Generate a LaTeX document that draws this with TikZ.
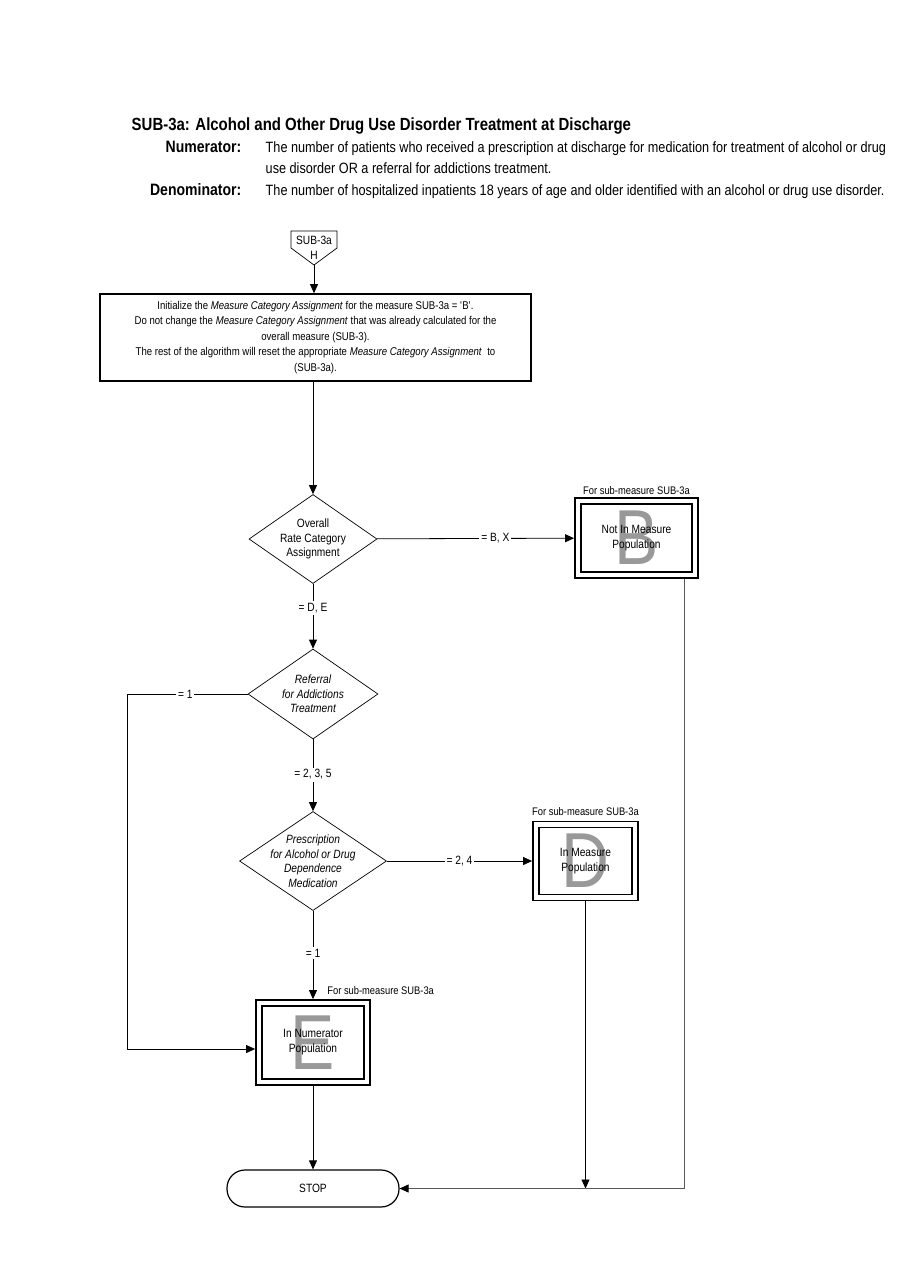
\documentclass[tikz,border=0pt]{standalone}
\usepackage{fontspec}
\setmainfont{Liberation Sans}[FakeStretch=0.85]
\usetikzlibrary{shapes.geometric,arrows.meta,calc}

\begin{document}
\begin{tikzpicture}[x=1pt,y=-1pt,line width=0.8pt,
  every node/.style={font=\fontsize{12}{14}\selectfont},
  hbold/.style={font=\bfseries\fontsize{16.5}{18}\selectfont},
  htext/.style={font=\fontsize{14.9}{18}\selectfont},
  proc/.style={draw,line width=1.6pt,minimum width=431pt,minimum height=87pt,inner sep=0pt,align=center,font=\fontsize{11.3}{15.5}\selectfont},
  decision/.style={diamond,draw,line width=0.7pt,inner sep=0pt},
  dtext/.style={align=center,font=\fontsize{12}{14.5}\selectfont\itshape},
  catbox/.style={draw,line width=1.6pt,double,double distance=4.5pt,outer sep=3.9pt,inner sep=0pt,text=black!40,font=\fontsize{78}{78}\selectfont},
  ctext/.style={align=center,font=\fontsize{12}{15}\selectfont},
  cnote/.style={inner sep=2pt,font=\fontsize{11}{13}\selectfont},
  elabel/.style={fill=white,inner sep=2pt},
  arr/.style={-{Triangle[length=9pt,width=8pt]}}]
\useasboundingbox (0,0) rectangle (900,1286);

% heading
\node[anchor=base west,font=\bfseries\fontsize{17.6}{20}\selectfont] (title) at (128,130) {SUB-3a: Alcohol and Other Drug Use Disorder Treatment at Discharge};
\node[anchor=base east,hbold] (numlab) at (245,152) {Numerator:};
\node[anchor=base west,htext] (numtxt) at (262,152) {The number of patients who received a prescription at discharge for medication for treatment of alcohol or drug};
\node[anchor=base west,htext] (numtxtb) at (262,173) {use disorder OR a referral for addictions treatment.};
\node[anchor=base east,hbold] (denlab) at (245,195) {Denominator:};
\node[anchor=base west,htext] (dentxt) at (262,195) {The number of hospitalized inpatients 18 years of age and older identified with an alcohol or drug use disorder.};

% off-page connector
\node[minimum width=46pt,minimum height=34pt,inner sep=0pt,outer sep=0pt,align=center,font=\fontsize{12}{14.5}\selectfont] (hconn) at (314,248) {SUB-3a\\H};
\draw[line width=0.7pt] (hconn.north west) -- (hconn.north east) -- ($(hconn.north east)+(0,17)$) -- (hconn.south) -- ($(hconn.north west)+(0,17)$) -- cycle;

\node[proc] (init) at (315.5,337.5) {Initialize the \textit{Measure Category Assignment} for the measure SUB-3a = \textquotesingle B\textquotesingle.\\
  Do not change the \textit{Measure Category Assignment} that was already calculated for the\\
  overall measure (SUB-3).\\
  The rest of the algorithm will reset the appropriate \textit{Measure Category Assignment}\ \ to\\
  (SUB-3a).};

% decisions
\node[decision,minimum width=128pt,minimum height=89pt] (rate) at (313,539) {};
\node[dtext,font=\fontsize{12}{14.5}\selectfont] (ratet) at (rate) {Overall\\Rate Category\\Assignment};
\node[decision,minimum width=130pt,minimum height=90pt] (refer) at (313,694) {};
\node[dtext] (refert) at (refer) {Referral\\for Addictions\\Treatment};
\node[decision,minimum width=147pt,minimum height=99pt] (presc) at (313,861) {};
\node[dtext] (presct) at (presc) {Prescription\\for Alcohol or Drug\\Dependence\\Medication};

% category boxes
\node[catbox,minimum width=117pt,minimum height=74pt] (notin) at (636.5,538) {B};
\node[ctext] (notint) at (notin) {Not In Measure\\Population};
\node[cnote,above] (notinn) at (notin.north) {For sub-measure SUB-3a};
\node[catbox,minimum width=99pt,minimum height=73pt] (inmeas) at (585.5,861) {D};
\node[ctext] (inmeast) at (inmeas) {In Measure\\Population};
\node[cnote,above] (inmeasn) at ([yshift=3pt]inmeas.north) {For sub-measure SUB-3a};
\node[catbox,minimum width=108pt,minimum height=79pt] (innum) at (313,1042.5) {E};
\node[ctext] (innumt) at (innum) {In Numerator\\Population};
\node[cnote,anchor=south west] (innumn) at ($(innum.north)+(12,-2)$) {For sub-measure SUB-3a};

\node[draw,rounded corners=18pt,line width=1.2pt,minimum width=172pt,minimum height=37pt] (stop) at (313,1188.5) {STOP};

% connectors
\draw[arr] (hconn.south) -- (hconn.south |- init.north);
\draw[arr] (rate.north |- init.south) -- (rate.north);
\draw[arr] (rate) -- node[elabel,pos=0.6] (lbx) {= B, X} (notin);
\draw[arr] (rate) -- node[elabel,pos=0.37] (lde) {= D, E} (refer);
\draw[arr] (refer.west) -- node[elabel,pos=0.52] (lone) {= 1} ++(-120,0) |- ($(innum.west)+(0,6.5)$);
\draw[arr] (refer) -- node[elabel,pos=0.49] (ltwo) {= 2, 3, 5} (presc);
\draw[arr] (presc) -- node[elabel] (lfour) {= 2, 4} (inmeas);
\draw[arr] (presc) -- node[elabel,pos=0.48] (lonb) {= 1} (innum);
\draw[arr] (innum) -- (stop);
\draw[arr] (inmeas.south) -- (inmeas.south |- stop.east);
\draw[black!65,-{Triangle[length=9pt,width=8pt,black]}] ([xshift=-15pt]notin.south east) |- (stop.east);
\end{tikzpicture}
\end{document}
